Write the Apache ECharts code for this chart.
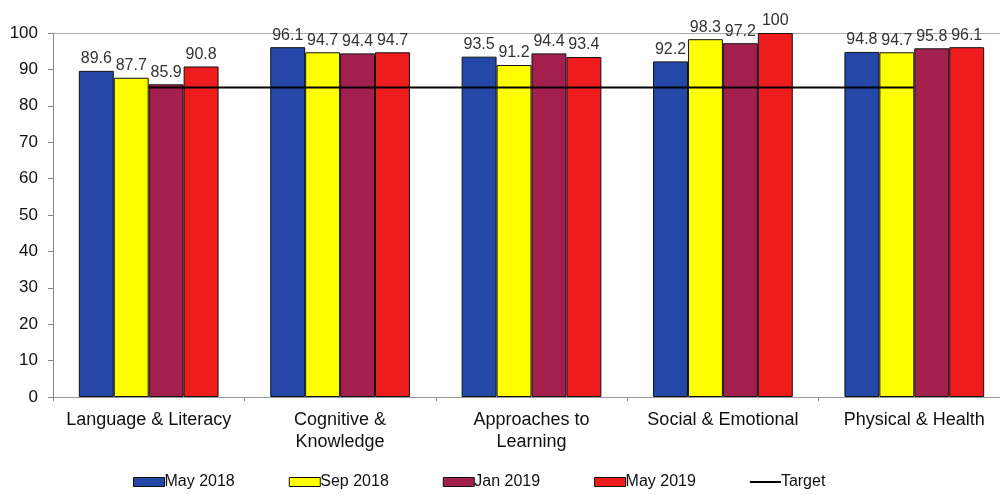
<!DOCTYPE html>
<html><head><meta charset="utf-8">
<script src="https://cdn.jsdelivr.net/npm/echarts@6/dist/echarts.min.js"></script>
<style>html,body{margin:0;padding:0;background:#fff}#c{width:1000px;height:495px}</style>
</head><body><div id="c"></div>
<script>
const categories = ['Language & Literacy', 'Cognitive &\nKnowledge', 'Approaches to\nLearning', 'Social & Emotional', 'Physical & Health'];
const seriesNames = ['May 2018', 'Sep 2018', 'Jan 2019', 'May 2019'];
const may2018 = [89.6, 96.1, 93.5, 92.2, 94.8];
const sep2018 = [87.7, 94.7, 91.2, 98.3, 94.7];
const jan2019 = [85.9, 94.4, 94.4, 97.2, 95.8];
const may2019 = [90.8, 94.7, 93.4, 100, 96.1];
const target = [85, 85, 85, 85, 85];
const yTicks = {min: 0, max: 100, interval: 10};

const colors = ['#2447A8', '#FFFF00', '#A3204E', '#EE1C1C'];
const barData = [may2018, sep2018, jan2019, may2019];
const font = 'Liberation Sans, Arial, sans-serif';

const chart = echarts.init(document.getElementById('c'), null, {renderer: 'canvas'});
const series = barData.map((d, i) => ({
  name: seriesNames[i], type: 'bar', data: d,
  barGap: '0%', barCategoryGap: '27%',
  itemStyle: {color: colors[i], borderColor: '#111', borderWidth: 1},
  label: {show: true, position: 'top', distance: 4, color: '#333', fontSize: 16, fontFamily: font}
}));
series.push({
  name: 'Target', type: 'line', data: target, symbol: 'none',
  lineStyle: {color: '#000', width: 2}, z: 5
});
const boxItem = n => ({name: n, icon: 'rect', itemStyle: {borderColor: '#111', borderWidth: 1}});
chart.setOption({
  animation: false,
  color: colors.concat(['#000']),
  grid: {left: 53, right: -10, top: 33, bottom: 98, outerBoundsMode: 'none'},
  legend: {
    bottom: 0, left: 128, itemGap: 54, itemWidth: 31, itemHeight: 9,
    textStyle: {fontSize: 16, fontFamily: font, color: '#111', padding: [0, 0, 0, -5]},
    data: [
      boxItem('May 2018'), boxItem('Sep 2018'), boxItem('Jan 2019'), boxItem('May 2019'),
      {name: 'Target', icon: 'path://M0,0 L31,0 L31,2 L0,2 Z', itemStyle: {color: '#000'}}
    ]
  },
  xAxis: [{
    type: 'category', data: categories, position: 'bottom',
    axisLine: {lineStyle: {color: '#999', width: 1}},
    axisTick: {show: true, length: 4, lineStyle: {color: '#888'}},
    axisLabel: {fontSize: 18, fontFamily: font, color: '#111', margin: 12, lineHeight: 22, interval: 0}
  }, {
    type: 'category', data: categories, position: 'top',
    axisLine: {show: true, lineStyle: {color: '#aaa', width: 1}},
    axisTick: {show: false}, axisLabel: {show: false}
  }],
  yAxis: {
    type: 'value', min: yTicks.min, max: yTicks.max, interval: yTicks.interval,
    axisLine: {show: true, lineStyle: {color: '#888'}},
    axisTick: {show: true, length: 5, lineStyle: {color: '#888'}},
    splitLine: {show: false},
    axisLabel: {fontSize: 17, fontFamily: font, color: '#111', margin: 15}
  },
  series: series
});
</script></body></html>
